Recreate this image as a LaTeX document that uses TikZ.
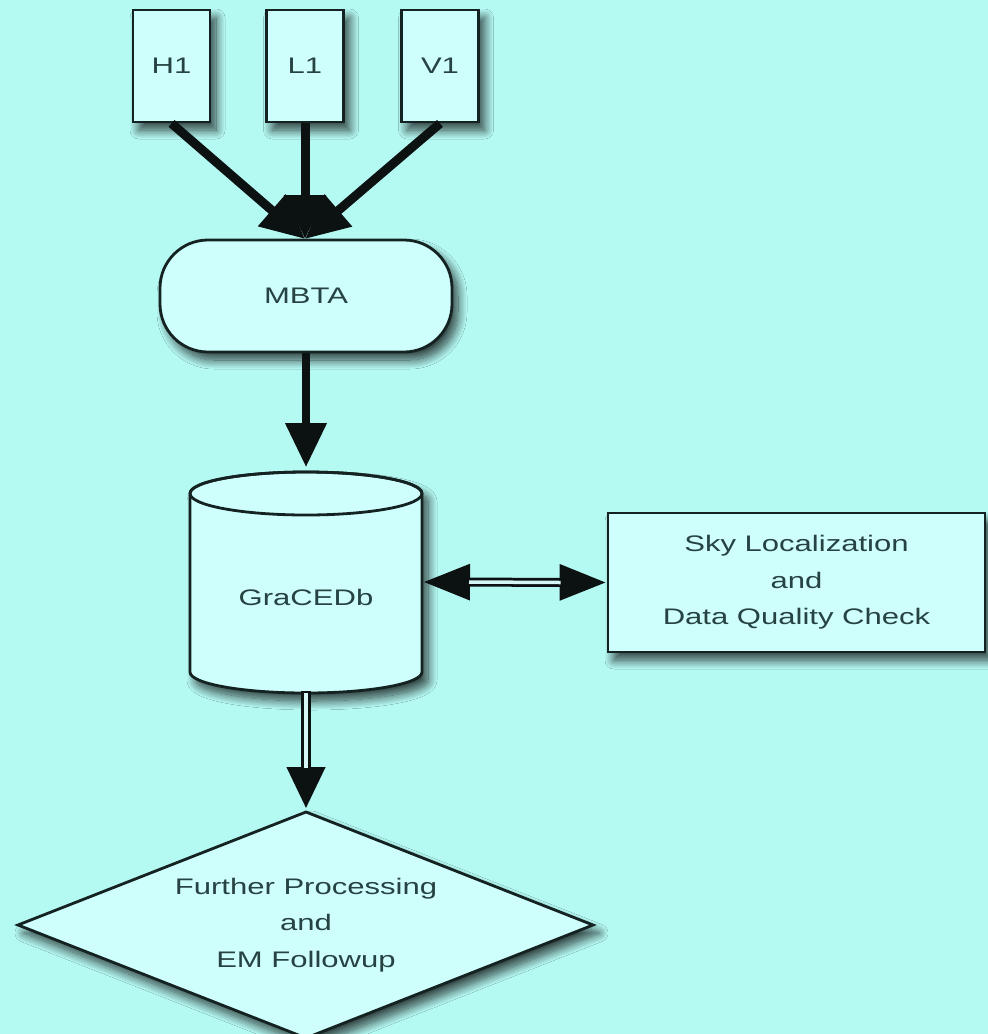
\documentclass[tikz,border=0pt]{standalone}
\usepackage{fontspec}
\setmainfont{Liberation Sans}[FakeStretch=1.38]
\usetikzlibrary{arrows.meta,shadows.blur,calc}

\definecolor{bgcyan}{RGB}{181,249,243}
\definecolor{boxfill}{RGB}{206,255,252}
\definecolor{inkline}{RGB}{20,34,34}
\definecolor{labeltext}{RGB}{38,66,66}
\definecolor{arrowink}{RGB}{12,18,18}
\definecolor{shaftcore}{RGB}{214,246,246}

\tikzset{
  softshadow/.style={blur shadow={shadow xshift=6pt, shadow yshift=-8pt,
      shadow blur radius=9pt, shadow blur steps=16, shadow opacity=75}},
  labelfont/.style={font=\fontsize{22.5pt}{36.5pt}\selectfont, text=labeltext},
  shapeline/.style={draw=inkline, line width=2.8pt, fill=boxfill},
  detbox/.style={shapeline, softshadow, labelfont, inner sep=0pt,
      minimum width=77pt, minimum height=112pt},
  procbox/.style={shapeline, softshadow, labelfont, inner sep=0pt, align=center},
  fatarrow/.style={draw=arrowink, line width=9pt,
      -{Triangle[length=44pt,width=40pt]}},
}

\begin{document}
\begin{tikzpicture}[x=1pt, y=-1pt]
  % canvas
  \useasboundingbox (0,0) rectangle (988,1034);
  \fill[bgcyan] (0,0) rectangle (988,1034);

  % detectors
  \node[detbox] (h1) at (171.5,66) {H1};
  \node[detbox] (l1) at (305,66) {L1};
  \node[detbox] (v1) at (440,66) {V1};

  % pipeline
  \node[procbox, rounded corners=48pt, minimum width=292pt, minimum height=112pt]
    (mbta) at (306,296) {MBTA};

  % database cylinder
  \path[shapeline, softshadow]
    (190,493.5) -- (190,672)
    arc[start angle=180, end angle=0, x radius=116, y radius=21]
    -- (422,493.5)
    arc[start angle=0, end angle=-180, x radius=116, y radius=21.5] -- cycle;
  \draw[draw=inkline, line width=2.8pt]
    (306,493.5) ellipse[x radius=116, y radius=21.5];
  \node[labelfont] (db) at (306,597) {GraCEDb};
  \coordinate (dbtop) at (306,467);
  \coordinate (dbeast) at (423,582);
  \coordinate (dbsouth) at (306,691);

  % follow-up box
  \node[procbox, minimum width=377pt, minimum height=139pt]
    (sky) at (796.5,582.5) {Sky Localization\\and\\Data Quality Check};

  % decision diamond
  \path[shapeline, softshadow]
    (306,812) -- (593,925) -- (306,1038) -- (18,925) -- cycle;
  \node[labelfont, align=center] (fp) at (306,925)
    {Further Processing\\and\\EM Followup};
  \coordinate (fptop) at (306,809);

  % detector arrows
  \coordinate (merge) at (305,239);
  \draw[fatarrow] (h1.south) -- (merge);
  \draw[fatarrow] (v1.south) -- (merge);
  \draw[fatarrow] (l1.south) -- (merge);

  % MBTA to database
  \draw[fatarrow, line width=7.5pt] (mbta.south) -- (dbtop);

  % database <-> sky localization (double line)
  \draw[draw=arrowink, line width=9pt,
        {Triangle[length=47pt,width=34pt]}-{Triangle[length=47pt,width=34pt]}]
    (dbeast) -- (sky.west);
  \draw[shaftcore, line width=3.5pt]
    ($(dbeast)+(46,0)$) -- ($(sky.west)+(-46,0)$);

  % database to further processing (double line)
  \draw[draw=arrowink, line width=10pt, -{Triangle[length=42pt,width=36pt]}]
    (dbsouth) -- (fptop);
  \draw[shaftcore, line width=4pt]
    ($(dbsouth)+(0,2)$) -- ($(fptop)+(0,-41)$);
\end{tikzpicture}
\end{document}
